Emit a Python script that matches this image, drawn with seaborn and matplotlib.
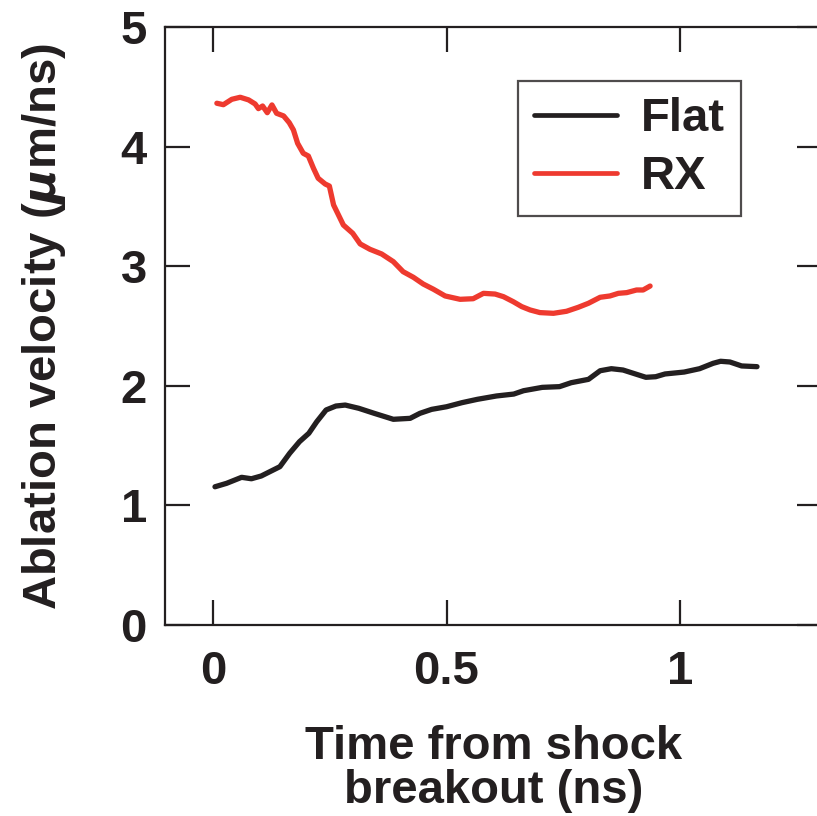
import pandas as pd
import seaborn as sns
import matplotlib.pyplot as plt
import numpy as np

# values
flat_t = [0.004, 0.029, 0.061, 0.082, 0.103, 0.143, 0.164, 0.185, 0.205, 0.222,
          0.242, 0.263, 0.283, 0.312, 0.345, 0.386, 0.422, 0.443, 0.468, 0.500,
          0.533, 0.566, 0.607, 0.644, 0.665, 0.705, 0.742, 0.767, 0.804, 0.829,
          0.853, 0.878, 0.927, 0.948, 0.968, 1.009, 1.042, 1.071, 1.087, 1.107,
          1.132, 1.165]
flat_v = [1.156, 1.185, 1.235, 1.223, 1.246, 1.324, 1.436, 1.533, 1.603, 1.700,
          1.798, 1.831, 1.839, 1.812, 1.770, 1.720, 1.728, 1.770, 1.803, 1.825,
          1.859, 1.887, 1.915, 1.931, 1.959, 1.987, 1.993, 2.026, 2.054, 2.126,
          2.143, 2.132, 2.071, 2.076, 2.099, 2.115, 2.143, 2.188, 2.205, 2.199,
          2.166, 2.160]

rx_t = [0.008, 0.022, 0.040, 0.058, 0.076, 0.090, 0.097, 0.106, 0.116, 0.126,
        0.136, 0.151, 0.163, 0.172, 0.181, 0.193, 0.204, 0.215, 0.225, 0.240,
        0.249, 0.258, 0.279, 0.299, 0.315, 0.336, 0.361, 0.386, 0.407, 0.429,
        0.450, 0.472, 0.497, 0.529, 0.557, 0.579, 0.604, 0.622, 0.643, 0.661,
        0.679, 0.700, 0.729, 0.757, 0.782, 0.804, 0.829, 0.850, 0.868, 0.886,
        0.907, 0.921, 0.936]
rx_v = [4.362, 4.350, 4.395, 4.412, 4.390, 4.356, 4.317, 4.339, 4.283, 4.348,
        4.278, 4.256, 4.200, 4.139, 4.027, 3.944, 3.921, 3.818, 3.735, 3.687,
        3.670, 3.512, 3.344, 3.275, 3.186, 3.141, 3.102, 3.038, 2.954, 2.907,
        2.851, 2.807, 2.751, 2.723, 2.728, 2.773, 2.767, 2.745, 2.703, 2.662,
        2.634, 2.612, 2.606, 2.623, 2.656, 2.690, 2.740, 2.751, 2.773, 2.779,
        2.801, 2.801, 2.834]

series_names = ["Flat", "RX"]
x_ticks = [0, 0.5, 1]
x_tick_labels = ["0", "0.5", "1"]
y_ticks = [0, 1, 2, 3, 4, 5]

df = pd.concat([
    pd.DataFrame({"t": flat_t, "v": flat_v, "target": "Flat"}),
    pd.DataFrame({"t": rx_t, "v": rx_v, "target": "RX"}),
], ignore_index=True)

sns.set_theme(style="white")
plt.rcParams["font.family"] = ["Liberation Sans", "DejaVu Sans"]
plt.rcParams["font.weight"] = "bold"
plt.rcParams["mathtext.fontset"] = "dejavusans"

ink = "#231f20"
palette = {"Flat": ink, "RX": "#ee3a2f"}

fig = plt.figure(figsize=(8.17, 8.16), dpi=100)
ax = fig.add_axes([0.202, 0.234, 0.804, 0.733])

sns.lineplot(data=df, x="t", y="v", hue="target", hue_order=series_names,
             palette=palette, estimator=None, sort=False, linewidth=3.8, ax=ax)

ax.set_xlim(-0.103, 1.304)
ax.set_ylim(0, 5)
ax.set_xticks(x_ticks)
ax.set_xticklabels(x_tick_labels)
ax.set_yticks(y_ticks)

for s in ax.spines.values():
    s.set_color(ink)
    s.set_linewidth(1.6)

ax.tick_params(axis="both", direction="in", length=18, width=1.6, color=ink,
               labelsize=34, labelcolor=ink, top=True, right=True,
               bottom=True, left=True)
ax.tick_params(axis="x", pad=18)
ax.tick_params(axis="y", pad=13)

ax.set_xlabel("Time from shock\nbreakout (ns)", fontsize=34, fontweight="bold",
              color=ink, labelpad=22, linespacing=1.0)
ax.set_ylabel(r"Ablation velocity ($\mu$m/ns)", fontsize=34, fontweight="bold",
              color=ink, labelpad=38)

leg = ax.legend(loc="upper right", bbox_to_anchor=(0.877, 0.91), frameon=True,
                fancybox=False, fontsize=34, handlelength=1.75, handletextpad=0.5,
                borderpad=0.35, labelspacing=0.3, borderaxespad=0)
leg.get_frame().set_edgecolor(ink)
leg.get_frame().set_linewidth(1.6)
for line in leg.get_lines():
    line.set_linewidth(3.4)
for txt in leg.get_texts():
    txt.set_color(ink)
    txt.set_fontweight("bold")

fig.savefig("out.png", dpi=100)
